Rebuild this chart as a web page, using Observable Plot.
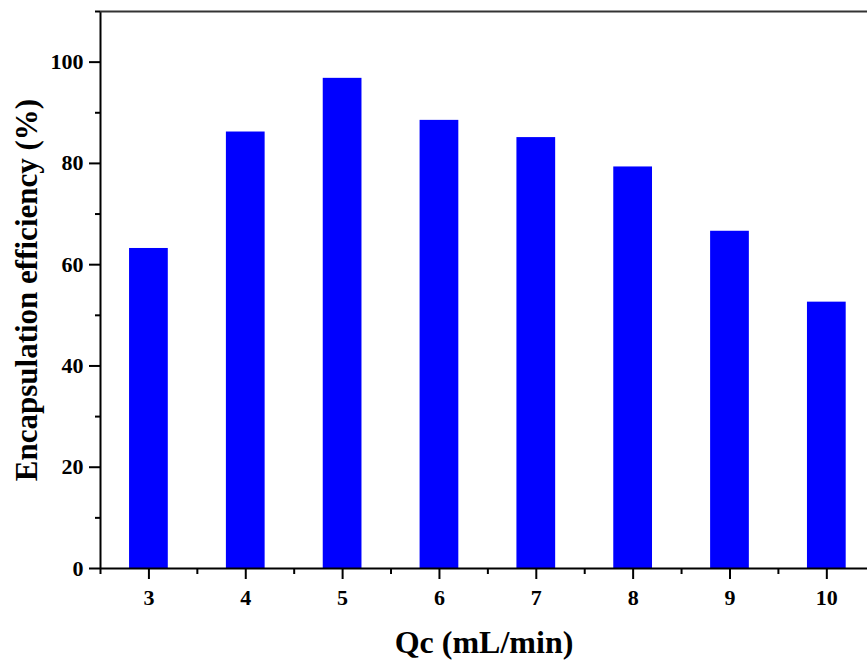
<!DOCTYPE html>
<html>
<head>
<meta charset="utf-8">
<script src="https://cdn.jsdelivr.net/npm/d3@7"></script>
<script src="https://cdn.jsdelivr.net/npm/@observablehq/plot@0.6"></script>
<style>
  html, body { margin: 0; padding: 0; background: #fff; }
  svg { font-family: "Liberation Serif", "Times New Roman", serif; }
</style>
</head>
<body>
<div id="chart"></div>
<script>
const qc = [3, 4, 5, 6, 7, 8, 9, 10];
const efficiency = [63.2, 86.2, 96.8, 88.5, 85.1, 79.3, 66.6, 52.6];
const xMajorTicks = [3, 4, 5, 6, 7, 8, 9, 10];
const xMinorTicks = [2.5, 3.5, 4.5, 5.5, 6.5, 7.5, 8.5, 9.5];
const yMajorTicks = [0, 20, 40, 60, 80, 100];
const yMinorTicks = [10, 30, 50, 70, 90, 110];
const xTitle = "Qc (mL/min)";
const yTitle = "Encapsulation efficiency (%)";

const data = qc.map((q, i) => ({q, e: efficiency[i]}));
const halfBar = 0.2;

const chart = Plot.plot({
  width: 867,
  height: 660,
  marginLeft: 100,
  marginRight: 0,
  marginTop: 11,
  marginBottom: 92,
  style: {fontFamily: '"Liberation Serif", "Times New Roman", serif', background: "#fff"},
  x: {domain: [2.5, 10.42], axis: null},
  y: {domain: [0, 110], axis: null},
  marks: [
    Plot.rectY(data, {x1: d => d.q - halfBar, x2: d => d.q + halfBar, y1: 0, y2: "e", fill: "#0000ff"}),
    Plot.axisY({ticks: yMajorTicks, tickSize: 11, tickPadding: 6, tickFormat: d => String(d), fontSize: 22, fontWeight: "bold", strokeWidth: 2, label: null, color: "#000"}),
    Plot.axisY({ticks: yMinorTicks, tickSize: 5, text: null, strokeWidth: 2, label: null}),
    Plot.axisX({ticks: xMajorTicks, tickSize: 11, tickPadding: 10, tickFormat: d => String(d), fontSize: 22, fontWeight: "bold", strokeWidth: 2, label: null}),
    Plot.axisX({ticks: xMinorTicks, tickSize: 6, text: null, strokeWidth: 2, label: null}),
    Plot.ruleX([2.5], {stroke: "#000", strokeWidth: 2}),
    Plot.ruleY([0], {stroke: "#000", strokeWidth: 2}),
    Plot.ruleY([110], {stroke: "#333", strokeWidth: 2}),
    Plot.text([xTitle], {frameAnchor: "bottom", dy: 84, fontSize: 32, fontWeight: "bold", fill: "#000"}),
    Plot.text([yTitle], {frameAnchor: "left", textAnchor: "middle", dx: -73, rotate: -90, fontSize: 31, fontWeight: "bold", fill: "#000"})
  ]
});
document.getElementById("chart").appendChild(chart);
</script>
</body>
</html>
